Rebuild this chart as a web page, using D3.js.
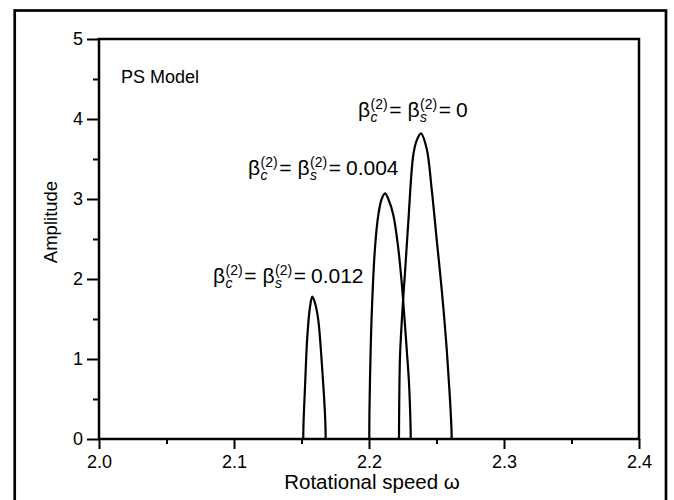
<!DOCTYPE html>
<html>
<head>
<meta charset="utf-8">
<script src="https://cdn.jsdelivr.net/npm/d3@7"></script>
<style>
  html, body { margin: 0; padding: 0; background: #fff; }
  svg { display: block; }
  text { font-family: "Liberation Sans", Arial, Helvetica, sans-serif; fill: #000; }
</style>
</head>
<body>
<svg id="chart" width="674" height="500"></svg>
<script>
// ---- data ----
const xTicks = [2.0, 2.1, 2.2, 2.3, 2.4];
const xTickLabels = ["2.0", "2.1", "2.2", "2.3", "2.4"];
const xMinorTicks = [2.05, 2.15, 2.25, 2.35];
const yTicks = [0, 1, 2, 3, 4, 5];
const yTickLabels = ["0", "1", "2", "3", "4", "5"];
const yMinorTicks = [0.5, 1.5, 2.5, 3.5, 4.5];

const seriesNames = ["0.012", "0.004", "0"];
// [rotational speed, amplitude]
const curve012 = [
  [2.1513, 0], [2.1515, 0.2], [2.1526, 0.65], [2.1543, 1.28], [2.1563, 1.65],
  [2.1580, 1.78], [2.1600, 1.70], [2.1624, 1.49], [2.1654, 0.86], [2.1674, 0.31],
  [2.1678, 0.12], [2.1679, 0]
];
const curve004 = [
  [2.2002, 0], [2.2003, 0.3], [2.2007, 0.71], [2.2020, 1.55], [2.2044, 2.38],
  [2.2069, 2.80], [2.2094, 3.00], [2.2119, 3.07], [2.2143, 3.00], [2.2180, 2.80],
  [2.2217, 2.38], [2.2242, 1.96], [2.2261, 1.55], [2.2279, 1.13], [2.2296, 0.71],
  [2.2308, 0.15], [2.2309, 0]
];
const curve0 = [
  [2.2222, 0], [2.2224, 0.46], [2.2230, 1.05], [2.2250, 1.67], [2.2267, 2.09],
  [2.2291, 2.71], [2.2328, 3.55], [2.2353, 3.73], [2.2385, 3.82], [2.2427, 3.63],
  [2.2464, 3.13], [2.2501, 2.50], [2.2538, 1.88], [2.2570, 1.25], [2.2595, 0.63],
  [2.2611, 0.12], [2.2612, 0]
];
const curves = [curve012, curve004, curve0];

// ---- layout ----
const svg = d3.select("#chart");
const W = 674, H = 500;
const margin = { left: 99, right: W - 639, top: 39, bottom: H - 439 };
const x = d3.scaleLinear().domain([2.0, 2.4]).range([margin.left, W - margin.right]);
const y = d3.scaleLinear().domain([0, 5]).range([H - margin.bottom, margin.top]);
const FONT = '"Liberation Sans", Arial, sans-serif';

// outer frame
svg.append("rect")
  .attr("x", 14.7).attr("y", 10.5)
  .attr("width", 651.3).attr("height", 510)
  .attr("fill", "none").attr("stroke", "#000").attr("stroke-width", 2.7);

// minor ticks
const xMinor = d3.axisBottom(x).tickValues(xMinorTicks).tickSize(5).tickFormat("");
const yMinor = d3.axisLeft(y).tickValues(yMinorTicks).tickSize(6).tickFormat("");
svg.append("g").attr("transform", `translate(0,${y(0)})`).call(xMinor)
  .call(g => g.select(".domain").remove())
  .call(g => g.selectAll("line").attr("stroke", "#000").attr("stroke-width", 2));
svg.append("g").attr("transform", `translate(${x(2.0)},0)`).call(yMinor)
  .call(g => g.select(".domain").remove())
  .call(g => g.selectAll("line").attr("stroke", "#000").attr("stroke-width", 2));

// major ticks
const xAxis = d3.axisBottom(x).tickValues(xTicks).tickSize(10).tickPadding(6)
  .tickFormat((d, i) => xTickLabels[i]);
const yAxis = d3.axisLeft(y).tickValues(yTicks).tickSize(12).tickPadding(4)
  .tickFormat((d, i) => yTickLabels[i]);
svg.append("g").attr("transform", `translate(0,${y(0)})`).call(xAxis)
  .call(g => g.select(".domain").remove())
  .call(g => g.selectAll("line").attr("stroke", "#000").attr("stroke-width", 2))
  .call(g => g.selectAll("text").attr("font-size", 18)
    .attr("font-family", FONT).attr("fill", "#000"));
svg.append("g").attr("transform", `translate(${x(2.0)},0)`).call(yAxis)
  .call(g => g.select(".domain").remove())
  .call(g => g.selectAll("line").attr("stroke", "#000").attr("stroke-width", 2))
  .call(g => g.selectAll("text").attr("font-size", 18)
    .attr("font-family", FONT).attr("fill", "#000"));

// plot frame
svg.append("rect")
  .attr("x", x(2.0)).attr("y", y(5))
  .attr("width", x(2.4) - x(2.0)).attr("height", y(0) - y(5))
  .attr("fill", "none").attr("stroke", "#000").attr("stroke-width", 2.5);

// curves
const line = d3.line()
  .x(d => x(d[0])).y(d => y(d[1]))
  .curve(d3.curveCatmullRom.alpha(0.5));
svg.append("g").selectAll("path").data(curves).join("path")
  .attr("d", line)
  .attr("fill", "none").attr("stroke", "#000").attr("stroke-width", 2.2)
  .attr("stroke-linejoin", "round");

// axis titles
svg.append("text")
  .attr("x", (x(2.0) + x(2.4)) / 2 + 3).attr("y", 489)
  .attr("text-anchor", "middle").attr("font-size", 20.5)
  .text("Rotational speed ω");
svg.append("text")
  .attr("transform", `translate(57,${(y(0) + y(5)) / 2 - 17}) rotate(-90)`)
  .attr("text-anchor", "middle").attr("font-size", 18.5)
  .text("Amplitude");

// PS Model
svg.append("text").attr("x", 121).attr("y", 83).attr("font-size", 18).text("PS Model");

// beta labels
const labelPos = [[213, 283], [248, 175], [358, 117]];
function betaLabel(px, py, val) {
  const g = svg.append("g");
  let cx = px;
  const big = 21, small = 14;
  function put(txt, size, dy, italic) {
    const t = g.append("text").attr("x", cx).attr("y", py + dy)
      .attr("font-size", size).text(txt);
    if (italic) t.attr("font-style", "italic");
    return t.node().getComputedTextLength();
  }
  function beta(sub) {
    cx += put("β", big, 0, false) + 0.5;
    const w1 = put("(2)", small, -8.5, false);
    const w2 = put(sub, small, 5, true);
    cx += Math.max(w1, w2) + 1.5;
  }
  beta("c");
  cx += put("=", big, 0, false) + 6;
  beta("s");
  cx += put("=", big, 0, false) + 5;
  put(val, big, 0, false);
}
seriesNames.forEach((v, i) => betaLabel(labelPos[i][0], labelPos[i][1], v));
</script>
</body>
</html>
